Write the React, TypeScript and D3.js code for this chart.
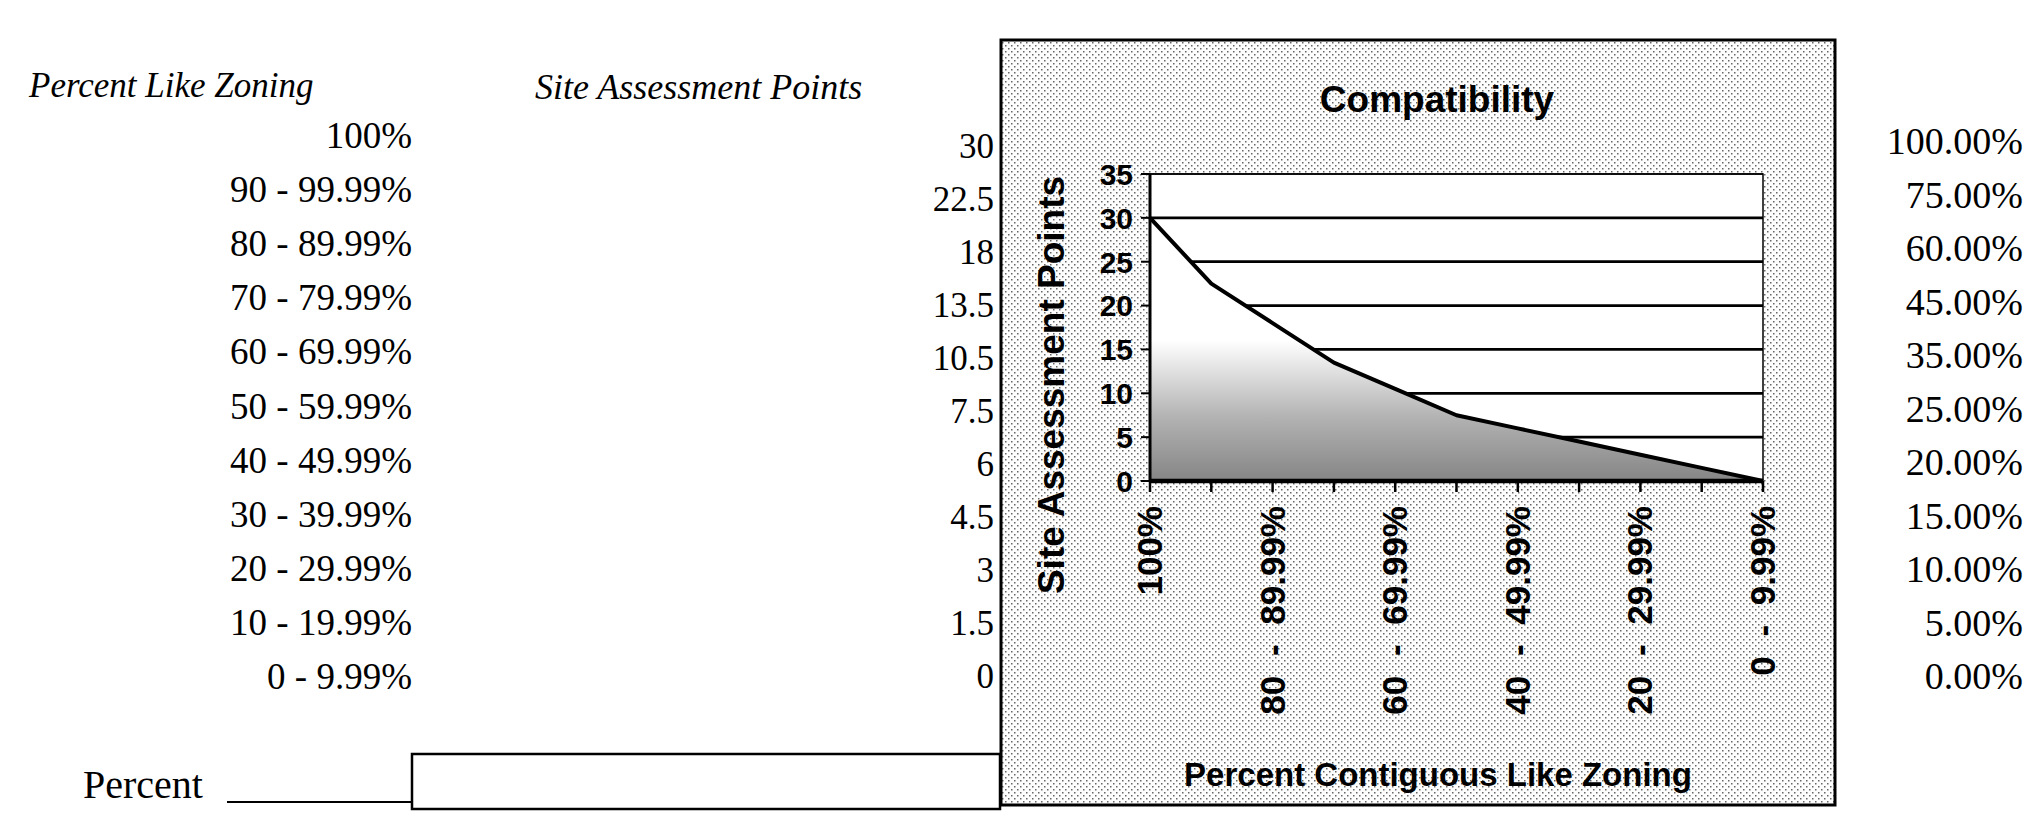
import React from "react";
import * as d3 from "d3";

// ---- data ----
const categories = [
  "100%",
  "90 - 99.99%",
  "80 - 89.99%",
  "70 - 79.99%",
  "60 - 69.99%",
  "50 - 59.99%",
  "40 - 49.99%",
  "30 - 39.99%",
  "20 - 29.99%",
  "10 - 19.99%",
  "0 - 9.99%",
];
const sitePoints = [30, 22.5, 18, 13.5, 10.5, 7.5, 6, 4.5, 3, 1.5, 0];
const rightShares = [1, 0.75, 0.6, 0.45, 0.35, 0.25, 0.2, 0.15, 0.1, 0.05, 0];
const yTicks = [0, 5, 10, 15, 20, 25, 30, 35];
const xLabelIndices = [0, 2, 4, 6, 8, 10];

const chartTitle = "Compatibility";
const yTitle = "Site Assessment Points";
const xTitle = "Percent Contiguous Like Zoning";
const leftHeader = "Percent Like Zoning";
const midHeader = "Site Assessment Points";
const bottomLabel = "Percent";

const W = 2034;
const H = 838;

const SERIF = "'Liberation Serif', 'Times New Roman', serif";
const SANS = "'Liberation Sans', Arial, sans-serif";

export default function App() {
  const x = d3.scalePoint<string>().domain(categories).range([1150, 1763]);
  const y = d3.scaleLinear().domain([0, 35]).range([481, 174]);

  const area = d3
    .area<number>()
    .x((_, i) => x(categories[i]) as number)
    .y0(y(0))
    .y1((d) => y(d));
  const line = d3
    .line<number>()
    .x((_, i) => x(categories[i]) as number)
    .y((d) => y(d));

  const plotL = x.range()[0];
  const plotR = x.range()[1];

  const leftY = d3.scaleLinear().domain([0, 10]).range([148, 689]);
  const midY = d3.scaleLinear().domain([0, 10]).range([158, 688]);
  const rightY = d3.scaleLinear().domain([0, 10]).range([154, 689]);
  const pct = d3.format(".2%");

  return (
    <svg
      width={W}
      height={H}
      viewBox={`0 0 ${W} ${H}`}
      style={{ position: "absolute", left: 0, top: 0, display: "block", background: "#fff" }}
    >
      <defs>
        <pattern id="dots" width="6" height="6" patternUnits="userSpaceOnUse">
          <rect width="6" height="6" fill="#fdfdfd" />
          <rect x="0" y="0" width="1.5" height="1.5" fill="#666" />
          <rect x="3" y="3" width="1.5" height="1.5" fill="#666" />
        </pattern>
        <linearGradient
          id="areaGrad"
          gradientUnits="userSpaceOnUse"
          x1="0"
          y1={y(0)}
          x2="0"
          y2={y(16)}
        >
          <stop offset="0" stopColor="#858585" />
          <stop offset="0.45" stopColor="#b2b2b2" />
          <stop offset="1" stopColor="#ffffff" />
        </linearGradient>
      </defs>

      {/* headers */}
      <text x={29} y={97} fontFamily={SERIF} fontStyle="italic" fontSize={35} fill="#000">
        {leftHeader}
      </text>
      <text x={535} y={99} fontFamily={SERIF} fontStyle="italic" fontSize={36} fill="#000">
        {midHeader}
      </text>

      {/* left column categories */}
      {categories.map((c, i) => (
        <text
          key={"l" + i}
          x={412}
          y={leftY(i)}
          textAnchor="end"
          fontFamily={SERIF}
          fontSize={37}
          fill="#000"
        >
          {c}
        </text>
      ))}

      {/* middle column points */}
      {sitePoints.map((v, i) => (
        <text
          key={"m" + i}
          x={994}
          y={midY(i)}
          textAnchor="end"
          fontFamily={SERIF}
          fontSize={35}
          fill="#000"
        >
          {String(v)}
        </text>
      ))}

      {/* right column percents */}
      {rightShares.map((v, i) => (
        <text
          key={"r" + i}
          x={2023}
          y={rightY(i)}
          textAnchor="end"
          fontFamily={SERIF}
          fontSize={38}
          fill="#000"
        >
          {pct(v)}
        </text>
      ))}

      {/* bottom "Percent ____ [box]" */}
      <text x={83} y={798} fontFamily={SERIF} fontSize={40} fill="#000">
        {bottomLabel}
      </text>
      <line x1={227} y1={802} x2={412} y2={802} stroke="#000" strokeWidth={2} />
      <rect x={412} y={754} width={588} height={55} fill="#fff" stroke="#000" strokeWidth={2.5} />

      {/* chart box */}
      <rect x={1001} y={40} width={834} height={765} fill="url(#dots)" stroke="#000" strokeWidth={3} />

      {/* chart title */}
      <text
        x={1437}
        y={112}
        textAnchor="middle"
        fontFamily={SANS}
        fontWeight="bold"
        fontSize={37}
        fill="#000"
      >
        {chartTitle}
      </text>

      {/* plot area */}
      <rect x={plotL} y={y(35)} width={plotR - plotL} height={y(0) - y(35)} fill="#fff" stroke="#000" strokeWidth={1.5} />

      {/* gridlines */}
      {yTicks
        .filter((t) => t > 0)
        .map((t) => (
          <line key={"g" + t} x1={plotL} x2={plotR} y1={y(t)} y2={y(t)} stroke="#000" strokeWidth={t === 35 ? 1.5 : 2.8} />
        ))}

      {/* area + line */}
      <path d={area(sitePoints) || ""} fill="url(#areaGrad)" />
      <path d={line(sitePoints) || ""} fill="none" stroke="#000" strokeWidth={4} strokeLinejoin="round" />

      {/* axes */}
      <line x1={plotL} x2={plotL} y1={y(35)} y2={y(0)} stroke="#000" strokeWidth={3} />
      <line x1={plotL} x2={plotR} y1={y(0)} y2={y(0)} stroke="#000" strokeWidth={4.5} />
      {yTicks.map((t) => (
        <g key={"yt" + t}>
          <line x1={plotL - 9} x2={plotL} y1={y(t)} y2={y(t)} stroke="#000" strokeWidth={2} />
          <text
            x={1133}
            y={y(t)}
            dy="0.36em"
            textAnchor="end"
            fontFamily={SANS}
            fontWeight="bold"
            fontSize={30}
            fill="#000"
          >
            {t}
          </text>
        </g>
      ))}
      {categories.map((c, i) => (
        <line
          key={"xt" + i}
          x1={x(c) as number}
          x2={x(c) as number}
          y1={y(0)}
          y2={y(0) + 11}
          stroke="#000"
          strokeWidth={2.5}
        />
      ))}
      {xLabelIndices.map((i) => (
        <text
          key={"xl" + i}
          transform={`translate(${(x(categories[i]) as number) + 12}, 506) rotate(-90)`}
          textAnchor="end"
          fontFamily={SANS}
          fontWeight="bold"
          fontSize={35}
          wordSpacing={10}
          fill="#000"
        >
          {categories[i]}
        </text>
      ))}

      {/* axis titles */}
      <text
        transform="translate(1064, 385) rotate(-90)"
        textAnchor="middle"
        fontFamily={SANS}
        fontWeight="bold"
        fontSize={37}
        fill="#000"
      >
        {yTitle}
      </text>
      <text
        x={1438}
        y={786}
        textAnchor="middle"
        fontFamily={SANS}
        fontWeight="bold"
        fontSize={33}
        fill="#000"
      >
        {xTitle}
      </text>
    </svg>
  );
}
